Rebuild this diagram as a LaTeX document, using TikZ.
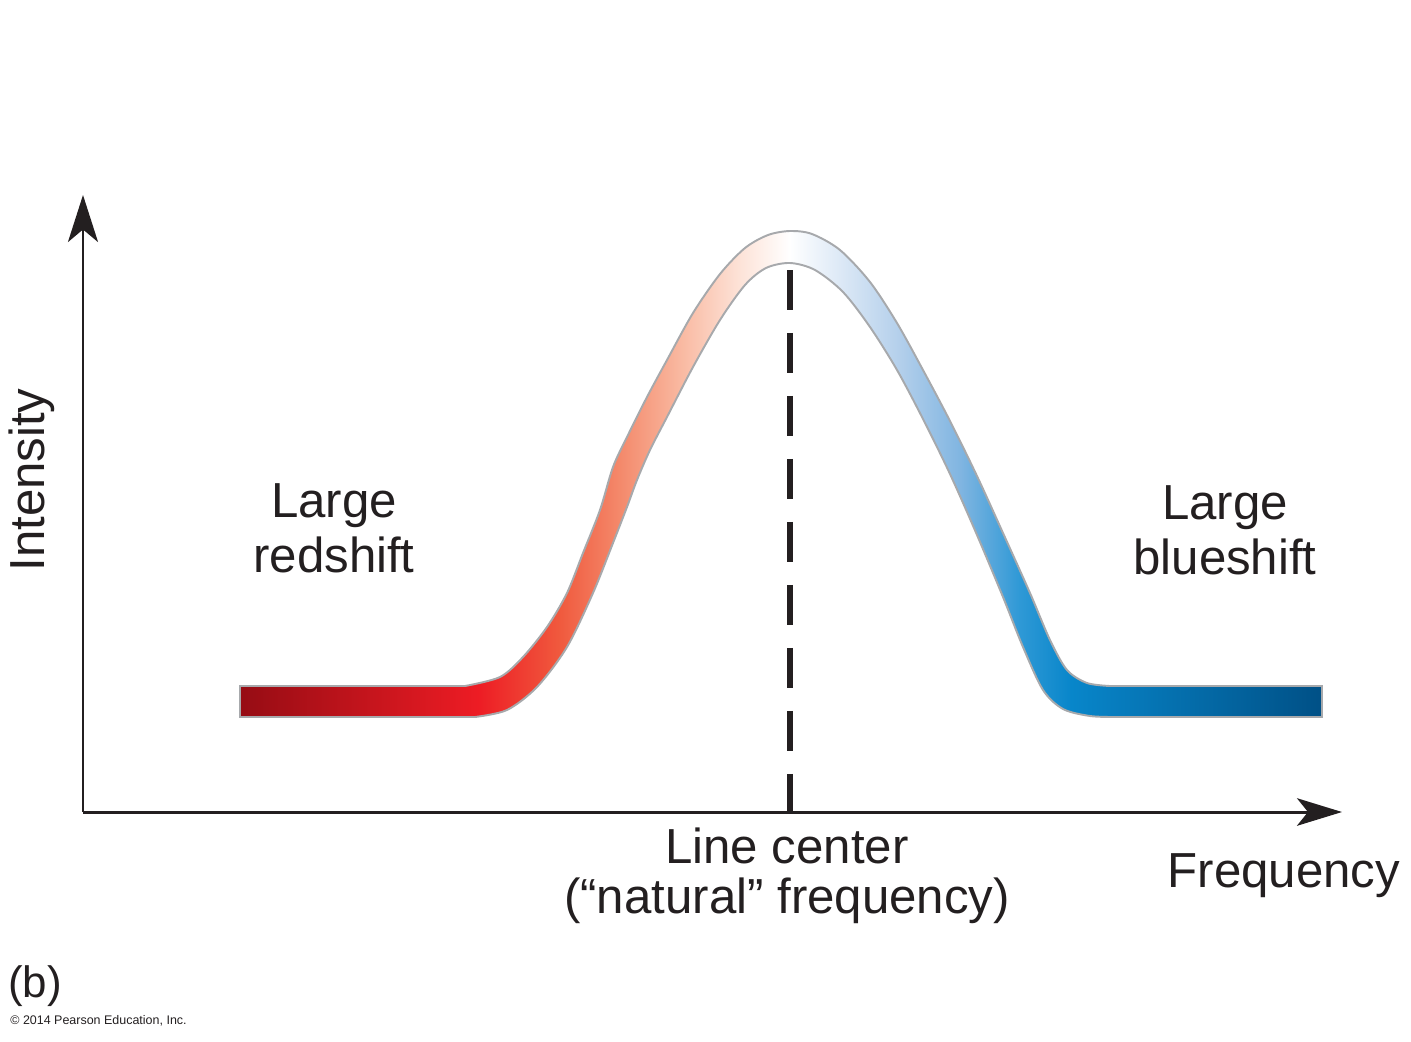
\documentclass[tikz,border=0pt]{standalone}
\usepackage{fontspec}
\setmainfont{Liberation Sans}
\usetikzlibrary{arrows.meta}
\definecolor{redA}{HTML}{960C14}
\definecolor{redB}{HTML}{ED1C24}
\definecolor{redC}{HTML}{F05A3E}
\definecolor{redD}{HTML}{F48A6C}
\definecolor{redE}{HTML}{F9B8A0}
\definecolor{redF}{HTML}{FDE3D8}
\definecolor{blueF}{HTML}{DDE9F6}
\definecolor{blueE}{HTML}{B3CFEB}
\definecolor{blueD}{HTML}{80B5E1}
\definecolor{blueC}{HTML}{2F99D6}
\definecolor{blueB}{HTML}{0886CA}
\definecolor{blueA}{HTML}{005086}
\definecolor{bandedge}{HTML}{A7A9AC}
\definecolor{ink}{HTML}{231F20}
\pgfdeclarehorizontalshading{dopplerband}{100bp}{color(0bp)=(redA); color(25bp)=(redA);
  color(36bp)=(redB); color(39.8bp)=(redC); color(42.6bp)=(redD); color(45.3bp)=(redE);
  color(48.1bp)=(redF); color(50.4bp)=(white); color(52.7bp)=(blueF); color(55.5bp)=(blueE);
  color(58.3bp)=(blueD); color(61bp)=(blueC); color(63.4bp)=(blueB); color(75bp)=(blueA);
  color(100bp)=(blueA)}
\begin{document}
\begin{tikzpicture}[x=0.02cm,y=-0.02cm,
    axis/.style={draw=ink,line width=1.7pt},
    lbl/.style={text=ink,inner sep=0pt,font=\fontsize{28}{31}\selectfont}]
  \useasboundingbox (0,0) rectangle (1411,1042);
  \coordinate (origin) at (83,812);
  \coordinate (ytip) at (83,195);
  \coordinate (xtip) at (1342,812);
  \coordinate (peak) at (790,270);
  \coordinate (foot) at (790,812);
  % spectral line
  \path[shading=dopplerband,draw=bandedge,line width=1.1pt]
    (240,686) -- plot[smooth,tension=0.5] coordinates {(465,686) (500,677) (523,657)
      (547,627) (567,593) (583,553) (600,510) (613,467) (627,437) (647,397) (667,360)
      (693,313) (720,274) (745,248) (768,235) (790,231) (812,234) (840,250) (870,282)
      (897,323) (923,370) (950,421) (977,476) (1003,533) (1030,593) (1050,640) (1067,670)
      (1087,683) (1110,686)}
    -- (1322,686) -- (1322,717)
    -- plot[smooth,tension=0.5] coordinates {(1115,717) (1090,716) (1063,709) (1043,690)
      (1023,647) (1003,597) (977,535) (950,474) (923,419) (897,370) (870,327) (843,292)
      (815,270) (790,263) (766,268) (745,285) (720,320) (693,367) (667,417) (650,450)
      (637,480) (627,507) (613,543) (593,593) (567,647) (537,687) (507,710) (475,717)}
    -- (240,717) -- cycle;
  \draw[ink,line width=3pt,dash pattern=on 0.8cm off 0.46cm] (peak) -- (foot);
  \draw[axis,-{Stealth[length=0.94cm,width=0.6cm,inset=0.25cm]}] (origin) -- (ytip);
  \draw[axis,-{Stealth[length=0.9cm,width=0.55cm,inset=0.22cm]}] (origin) -- (xtip);
  \node[lbl,rotate=90,anchor=base] (intensity) at (45,480) {Intensity};
  \node[lbl,anchor=base] (frequency) at (1284,887) {Frequency};
  \node[lbl,align=center,anchor=base] (red) at (334,572) {Large\\redshift};
  \node[lbl,align=center,anchor=base] (blue) at (1225,574) {Large\\blueshift};
  \node[lbl,align=center,anchor=base,font=\fontsize{28}{28.4}\selectfont] (center) at (787,913)
    {Line center\\(“natural” frequency)};
  \node[lbl,anchor=base west,font=\fontsize{25}{28}\selectfont] (panel) at (8,997) {(b)};
  \node[lbl,anchor=base west,font=\fontsize{7.1}{8}\selectfont] (credit) at (10,1024)
    {© 2014 Pearson Education, Inc.};
\end{tikzpicture}
\end{document}
